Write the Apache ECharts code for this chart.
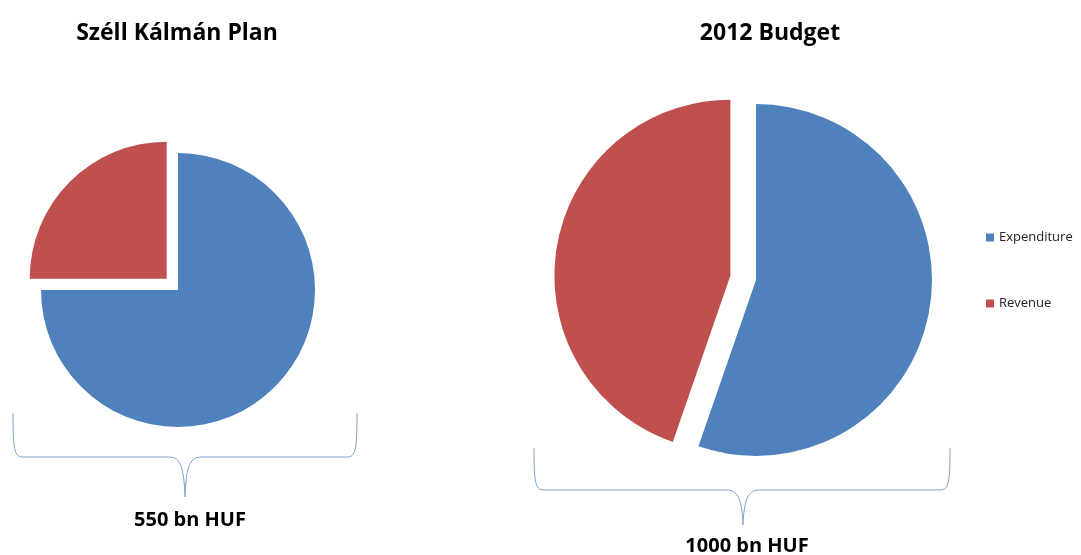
<!DOCTYPE html>
<html>
<head>
<meta charset="utf-8">
<script src="https://cdn.jsdelivr.net/npm/echarts@6/dist/echarts.min.js"></script>
<style>html,body{margin:0;padding:0;background:#fff;}#c{width:1081px;height:555px;}</style>
</head>
<body>
<div id="c"></div>
<script>
const categories = ['Expenditure', 'Revenue'];
const planValues = [75, 25];
const budgetValues = [55.3, 44.7];
const chartTitles = ['Széll Kálmán Plan', '2012 Budget'];
const totals = ['550 bn HUF', '1000 bn HUF'];
const colors = ['#4f81bd', '#c0504d'];

const chart = echarts.init(document.getElementById('c'));
const font = '"Open Sans", Lato, sans-serif';
const braceStyle = { stroke: '#7fa1c9', lineWidth: 1, fill: null };

function toData(vals) {
  return categories.map((n, i) => ({ name: n, value: vals[i], selected: i === 1 }));
}

// curly brace decoration built from line + bezier segments
function brace(x1, x2, yTop, yMid, tipX, tipY) {
  const r = 10;
  const parts = [];
  const seg = (type, shape) => parts.push({ type: type, shape: shape, style: braceStyle, silent: true });
  seg('bezierCurve', { x1: x1, y1: yTop, cpx1: x1, cpy1: yMid - 8, cpx2: x1 + 1, cpy2: yMid, x2: x1 + r, y2: yMid });
  seg('line', { x1: x1 + r, y1: yMid, x2: tipX - 16, y2: yMid });
  seg('bezierCurve', { x1: tipX - 16, y1: yMid, cpx1: tipX - 4, cpy1: yMid, cpx2: tipX - 1, cpy2: yMid + 12, x2: tipX, y2: tipY });
  seg('bezierCurve', { x1: tipX, y1: tipY, cpx1: tipX + 1, cpy1: yMid + 12, cpx2: tipX + 4, cpy2: yMid, x2: tipX + 16, y2: yMid });
  seg('line', { x1: tipX + 16, y1: yMid, x2: x2 - r, y2: yMid });
  seg('bezierCurve', { x1: x2 - r, y1: yMid, cpx1: x2 - 1, cpy1: yMid, cpx2: x2, cpy2: yMid - 8, x2: x2, y2: yTop });
  return parts;
}

const texts = [
  { type: 'text', x: 177, y: 33, style: { text: chartTitles[0], font: 'bold 23px ' + font, fill: '#000', textAlign: 'center', textVerticalAlign: 'middle' } },
  { type: 'text', x: 770, y: 33, style: { text: chartTitles[1], font: 'bold 23px ' + font, fill: '#000', textAlign: 'center', textVerticalAlign: 'middle' } },
  { type: 'text', x: 190, y: 520, style: { text: totals[0], font: 'bold 20px ' + font, fill: '#000', textAlign: 'center', textVerticalAlign: 'middle' } },
  { type: 'text', x: 747, y: 546, style: { text: totals[1], font: 'bold 20px ' + font, fill: '#000', textAlign: 'center', textVerticalAlign: 'middle' } }
];

chart.setOption({
  animation: false,
  color: colors,
  legend: {
    orient: 'vertical',
    left: 981,
    top: 226,
    itemWidth: 8,
    itemHeight: 8,
    itemGap: 53,
    icon: 'rect',
    selectedMode: false,
    textStyle: { fontFamily: font, fontSize: 13, color: '#222' },
    data: categories
  },
  series: [
    {
      type: 'pie',
      center: [178, 290],
      radius: 137,
      startAngle: 90,
      clockwise: true,
      selectedMode: 'multiple',
      selectedOffset: 16,
      label: { show: false },
      labelLine: { show: false },
      emphasis: { disabled: true },
      itemStyle: { borderWidth: 0 },
      data: toData(planValues)
    },
    {
      type: 'pie',
      center: [756, 280],
      radius: 176,
      startAngle: 90,
      clockwise: true,
      selectedMode: 'multiple',
      selectedOffset: 26,
      label: { show: false },
      labelLine: { show: false },
      emphasis: { disabled: true },
      itemStyle: { borderWidth: 0 },
      data: toData(budgetValues)
    }
  ],
  graphic: texts
    .concat(brace(13, 357, 413, 457, 185, 497))
    .concat(brace(534, 950, 448, 490, 743, 525))
});
</script>
</body>
</html>
